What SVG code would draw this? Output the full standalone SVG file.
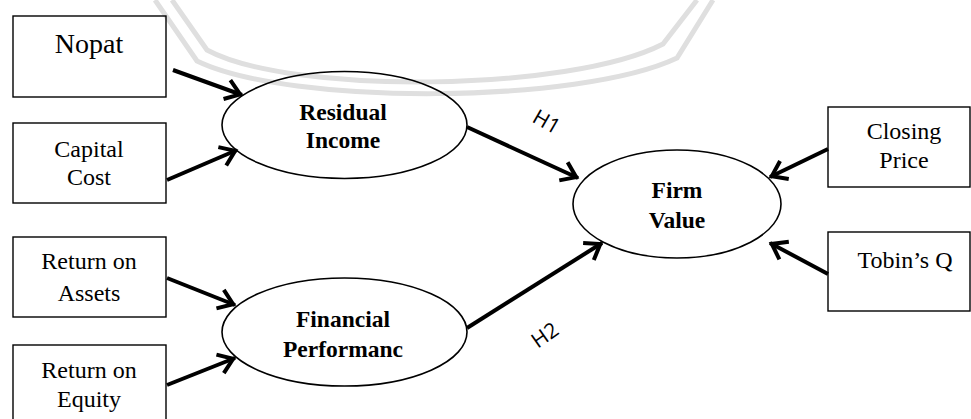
<svg xmlns="http://www.w3.org/2000/svg" width="971" height="419" viewBox="0 0 971 419">
  <style>
    .box { fill: none; stroke: #000; stroke-width: 1.4; }
    .oval { fill: none; stroke: #000; stroke-width: 1.6; }
    .lbl { font-family: "Liberation Serif", "Times New Roman", serif; font-size: 24px; fill: #000; text-anchor: middle; }
    .big { font-size: 28px; }
    .bold { font-weight: bold; font-size: 23.5px; }
    .hyp { font-family: "Open Sans", "Liberation Sans", sans-serif; font-size: 21px; fill: #000; text-anchor: middle; }
    .edge { stroke: #000; stroke-width: 4; fill: none; marker-end: url(#chev); }
    .mark { fill: none; stroke: #dfdfdf; stroke-width: 5; }
  </style>
  <defs>
    <marker id="chev" markerUnits="userSpaceOnUse" viewBox="-20 -15 30 30" markerWidth="30" markerHeight="30" refX="0" refY="0" orient="auto">
      <path d="M-16,-10 L-2,0 L-16,10" fill="none" stroke="#000" stroke-width="4" stroke-linejoin="miter"/>
    </marker>
  </defs>

  <rect width="971" height="419" fill="#fff"/>

  <!-- faint background emblem -->
  <g id="emblem">
    <path class="mark" d="M172,0 L207,50 C290,95 570,92 663,44 L697,0"/>
    <path class="mark" d="M155,0 L197,61 C290,106 580,104 677,58 L713,0"/>
  </g>

  <!-- connectors -->
  <g id="connectors">
    <line class="edge" x1="173" y1="70" x2="242" y2="95"/>
    <line class="edge" x1="167" y1="180" x2="237" y2="150"/>
    <line class="edge" x1="167" y1="278" x2="235" y2="305"/>
    <line class="edge" x1="167" y1="385" x2="235" y2="358"/>
    <line class="edge" x1="467" y1="127" x2="578" y2="178"/>
    <line class="edge" x1="467" y1="328" x2="602" y2="243"/>
    <line class="edge" x1="828" y1="149" x2="770" y2="177"/>
    <line class="edge" x1="828" y1="274" x2="770" y2="243"/>
    <text class="hyp" transform="translate(543,128) rotate(30)">H1</text>
    <text class="hyp" transform="translate(549,341) rotate(-35)">H2</text>
  </g>

  <!-- indicator boxes -->
  <g id="nopat">
    <rect class="box" x="13" y="16" width="153" height="81"/>
    <text class="lbl big" x="89" y="53">Nopat</text>
  </g>
  <g id="capital-cost">
    <rect class="box" x="13" y="123" width="153" height="80"/>
    <text class="lbl" x="89" y="157">Capital</text>
    <text class="lbl" x="89" y="185">Cost</text>
  </g>
  <g id="roa">
    <rect class="box" x="13" y="237" width="153" height="80"/>
    <text class="lbl" x="89" y="269">Return on</text>
    <text class="lbl" x="89" y="301">Assets</text>
  </g>
  <g id="roe">
    <rect class="box" x="13" y="345" width="153" height="90"/>
    <text class="lbl" x="89" y="378">Return on</text>
    <text class="lbl" x="89" y="407">Equity</text>
  </g>
  <g id="closing-price">
    <rect class="box" x="828" y="107" width="142" height="80"/>
    <text class="lbl" x="904" y="139">Closing</text>
    <text class="lbl" x="904" y="168">Price</text>
  </g>
  <g id="tobins-q">
    <rect class="box" x="828" y="232" width="142" height="79"/>
    <text class="lbl" x="905" y="268">Tobin’s Q</text>
  </g>

  <!-- latent constructs -->
  <g id="residual-income">
    <ellipse class="oval" cx="344.5" cy="125" rx="122.5" ry="53.5"/>
    <text class="lbl bold" x="343" y="120">Residual</text>
    <text class="lbl bold" x="343" y="148">Income</text>
  </g>
  <g id="financial-performance">
    <ellipse class="oval" cx="344.5" cy="332" rx="122.5" ry="54"/>
    <text class="lbl bold" x="343" y="327">Financial</text>
    <text class="lbl bold" x="343" y="357">Performanc</text>
  </g>
  <g id="firm-value">
    <ellipse class="oval" cx="677" cy="204" rx="104" ry="54"/>
    <text class="lbl bold" x="677" y="198">Firm</text>
    <text class="lbl bold" x="677" y="228">Value</text>
  </g>
</svg>
